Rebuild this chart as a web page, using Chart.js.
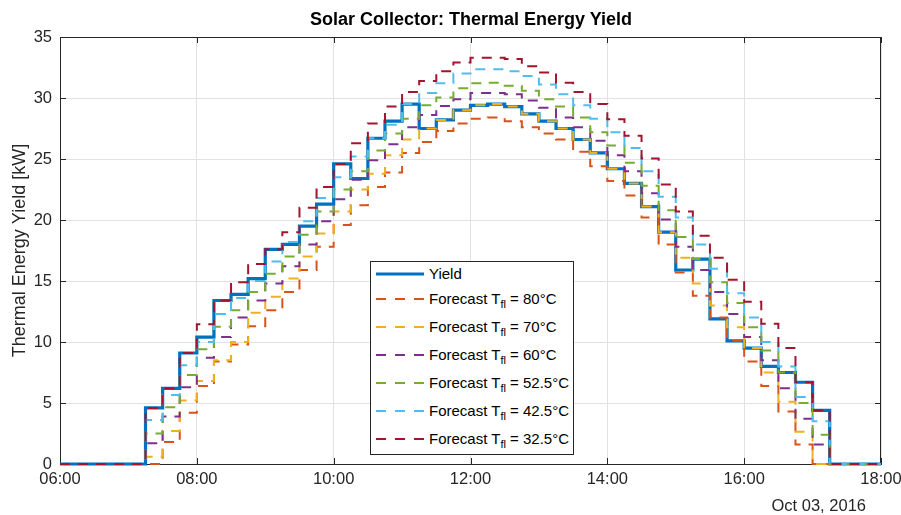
<!DOCTYPE html>
<html>
<head>
<meta charset="utf-8">
<script src="https://cdn.jsdelivr.net/npm/chart.js@4.4.1/dist/chart.umd.min.js"></script>
<style>
  body { margin: 0; background: #fff; }
  #wrap { position: relative; width: 901px; height: 515px; }
  #title {
    position: absolute; left: 271px; width: 400px; top: 8px; line-height: 22px; text-align: center;
    font-family: "Liberation Sans", Arial, Helvetica, sans-serif; font-size: 18px; font-weight: bold; color: #000;
  }
  #legend {
    position: absolute; left: 370px; top: 261px; width: 204px; height: 194px;
    box-sizing: border-box; border: 1px solid #262626; background: #fff;
    font-family: "Liberation Sans", Arial, Helvetica, sans-serif; font-size: 15px; color: #000;
  }
  #legend .row { position: absolute; left: 0; height: 20px; width: 200px; }
  #legend svg { position: absolute; left: 4px; top: 0; }
  #legend .txt { position: absolute; left: 58px; top: 0; line-height: 20px; white-space: nowrap; }
  #legend sub { font-size: 11px; vertical-align: -4px; line-height: 0; }
  #dateLabel {
    position: absolute; right: 35px; top: 495px; line-height: 20px;
    font-family: "Liberation Sans", Arial, Helvetica, sans-serif; font-size: 16.5px; color: #262626;
  }
</style>
</head>
<body>
<div id="wrap">
  <canvas id="chart" width="901" height="515"></canvas>
  <div id="title">Solar Collector: Thermal Energy Yield</div>
  <div id="legend"></div>
  <div id="dateLabel">Oct 03, 2016</div>
</div>
<script>
// 15-minute intervals, start hour of each step (07:15 ... 17:00)
const stepHours = [7.25, 7.5, 7.75, 8.0, 8.25, 8.5, 8.75, 9.0, 9.25, 9.5,
  9.75, 10.0, 10.25, 10.5, 10.75, 11.0, 11.25, 11.5, 11.75, 12.0,
  12.25, 12.5, 12.75, 13.0, 13.25, 13.5, 13.75, 14.0, 14.25, 14.5,
  14.75, 15.0, 15.25, 15.5, 15.75, 16.0, 16.25, 16.5, 16.75, 17.0];
const dayStart = 6, dayEnd = 18, lastStepEnd = 17.25;

const xTickHours = [6, 8, 10, 12, 14, 16, 18];
const xTickLabels = ['06:00', '08:00', '10:00', '12:00', '14:00', '16:00', '18:00'];

// kW per step
const yieldKW = [4.6, 6.2, 9.1, 10.4, 13.4, 13.9, 15.2, 17.6, 18.0, 19.5,
  21.3, 24.6, 23.4, 26.7, 28.1, 29.5, 27.5, 28.2, 29.0, 29.4,
  29.5, 29.3, 28.7, 28.1, 27.5, 26.6, 25.5, 24.2, 23.0, 21.1,
  19.0, 15.9, 16.8, 11.9, 10.1, 9.5, 8.0, 7.5, 6.7, 4.4];
const fc80 = [0, 1.8, 4.2, 6.4, 8.4, 9.8, 11.3, 12.6, 14.1, 15.9,
  17.8, 19.6, 21.2, 22.7, 23.9, 25.5, 26.4, 27.3, 27.9, 28.3,
  28.4, 28.1, 27.6, 27.1, 26.6, 25.6, 24.4, 23.2, 22.0, 20.2,
  18.0, 15.7, 13.8, 12.0, 10.1, 8.4, 6.4, 4.3, 1.6, 0];
const fc70 = [0.6, 2.7, 5.2, 6.8, 8.5, 10.0, 12.4, 13.7, 15.2, 17.0,
  18.9, 20.7, 22.5, 23.8, 25.3, 26.6, 27.5, 28.2, 29.0, 29.4,
  29.5, 29.3, 28.7, 28.1, 27.5, 26.6, 25.5, 24.2, 23.0, 21.1,
  19.0, 16.9, 14.8, 13.0, 11.2, 9.5, 7.5, 5.1, 2.65, 0];
const fc60 = [1.7, 3.9, 6.3, 8.7, 10.4, 12.0, 13.4, 14.8, 16.2, 18.0,
  19.9, 21.7, 23.3, 24.9, 26.2, 27.6, 28.6, 29.35, 29.9, 30.4,
  30.4, 30.3, 29.8, 29.2, 28.4, 27.6, 26.5, 25.3, 24.0, 22.2,
  20.05, 17.8, 15.9, 14.1, 12.3, 10.4, 8.5, 6.2, 3.7, 1.6];
const fc52 = [2.5, 4.65, 7.3, 9.4, 11.25, 12.6, 14.1, 15.6, 17.0, 18.8,
  20.7, 22.5, 24.0, 25.7, 27.1, 28.3, 29.4, 30.05, 30.8, 31.2,
  31.25, 31.0, 30.6, 29.9, 29.3, 28.4, 27.2, 26.1, 24.7, 22.8,
  20.8, 18.6, 16.8, 14.9, 13.2, 11.2, 9.3, 7.5, 5.0, 2.4];
const fc42 = [3.6, 5.65, 8.1, 10.0, 12.3, 13.6, 15.0, 16.6, 18.2, 19.9,
  21.8, 23.5, 25.2, 26.7, 27.8, 29.5, 30.4, 31.2, 32.0, 32.35,
  32.35, 32.2, 31.8, 31.1, 30.3, 29.4, 28.3, 27.2, 25.9, 24.0,
  21.9, 20.2, 18.0, 16.0, 14.0, 12.0, 10.0, 8.0, 5.5, 3.5];
const fc32 = [4.6, 6.2, 9.1, 11.45, 13.4, 14.9, 16.4, 17.6, 19.0, 21.0,
  22.7, 24.6, 26.3, 27.9, 29.3, 30.5, 31.4, 32.2, 32.9, 33.3,
  33.3, 33.2, 32.6, 32.1, 31.25, 30.5, 29.5, 28.25, 26.9, 25.05,
  22.9, 20.7, 18.7, 16.9, 15.1, 13.3, 11.5, 9.5, 6.7, 4.4];

const forecastTemps = ['80', '70', '60', '52.5', '42.5', '32.5'];
const forecastValues = [fc80, fc70, fc60, fc52, fc42, fc32];
const forecastColors = ['#D95319', '#EDB120', '#7E2F8E', '#77AC30', '#4DBEEE', '#A2142F'];
const yieldColor = '#0072BD';

const FONT = '"Liberation Sans", Arial, Helvetica, sans-serif';

function toSteps(vals) {
  const pts = [{ x: dayStart, y: 0 }];
  vals.forEach((v, i) => pts.push({ x: stepHours[i], y: v }));
  pts.push({ x: lastStepEnd, y: 0 });
  pts.push({ x: dayEnd, y: 0 });
  return pts;
}

const datasets = [{
  label: 'Yield',
  data: toSteps(yieldKW),
  borderColor: yieldColor,
  borderWidth: 3.2,
  stepped: true,
  pointRadius: 0,
  order: 7,
  clip: false
}];
forecastValues.forEach((vals, i) => {
  datasets.push({
    label: 'Forecast T_fl = ' + forecastTemps[i] + '°C',
    data: toSteps(vals),
    borderColor: forecastColors[i],
    borderWidth: 2,
    borderDash: [10, 8],
    stepped: true,
    pointRadius: 0,
    order: 6 - i,
    clip: false
  });
});

// axes box with inward ticks, matlab style
const boxPlugin = {
  id: 'box',
  beforeDatasetsDraw(chart) {
    const { ctx, chartArea: a, scales } = chart;
    ctx.save();
    ctx.strokeStyle = '#262626';
    ctx.lineWidth = 1;
    ctx.beginPath();
    ctx.moveTo(a.left, a.top + 0.5);
    ctx.lineTo(a.right, a.top + 0.5);
    ctx.moveTo(a.right - 0.5, a.top);
    ctx.lineTo(a.right - 0.5, a.bottom);
    scales.x.ticks.forEach(t => {
      const px = Math.round(scales.x.getPixelForValue(t.value)) + 0.5;
      ctx.moveTo(px, a.bottom); ctx.lineTo(px, a.bottom - 6);
      ctx.moveTo(px, a.top); ctx.lineTo(px, a.top + 6);
    });
    scales.y.ticks.forEach(t => {
      const py = Math.round(scales.y.getPixelForValue(t.value)) + 0.5;
      ctx.moveTo(a.left, py); ctx.lineTo(a.left + 6, py);
      ctx.moveTo(a.right, py); ctx.lineTo(a.right - 6, py);
    });
    ctx.stroke();
    ctx.restore();
  }
};

new Chart(document.getElementById('chart').getContext('2d'), {
  type: 'line',
  data: { datasets },
  options: {
    responsive: false,
    animation: false,
    devicePixelRatio: 1,
    layout: { padding: { left: 0, right: 20, top: 37, bottom: 0 } },
    plugins: {
      legend: { display: false },
      tooltip: { enabled: false },
      title: { display: false }
    },
    scales: {
      x: {
        type: 'linear',
        min: dayStart,
        max: dayEnd,
        afterBuildTicks(s) { s.ticks = xTickHours.map(v => ({ value: v })); },
        afterFit(s) { s.height = 51; s.paddingLeft = 0; s.paddingRight = 0; },
        ticks: {
          autoSkip: false, maxRotation: 0, padding: 6, color: '#262626',
          font: { family: FONT, size: 16.5 },
          callback: (v, i) => xTickLabels[i]
        },
        grid: { color: '#e2e2e2', drawTicks: false },
        border: { color: '#262626' }
      },
      y: {
        min: 0,
        max: 35,
        afterFit(s) { s.width = 60; s.paddingTop = 0; },
        ticks: { stepSize: 5, padding: 8, color: '#262626', font: { family: FONT, size: 16.5 } },
        grid: { color: '#e2e2e2', drawTicks: false },
        border: { color: '#262626' },
        title: {
          display: true,
          text: 'Thermal Energy Yield [kW]',
          color: '#262626',
          font: { family: FONT, size: 18 },
          padding: { top: 9, bottom: 0 }
        }
      }
    }
  },
  plugins: [boxPlugin]
});

// legend
const legendRowsY = [12, 37, 65, 93, 121, 149, 177];
let html = '<div class="row" style="top:' + (legendRowsY[0] - 10) + 'px">' +
  '<svg width="50" height="20"><line x1="1" y1="10" x2="49" y2="10" stroke="' + yieldColor + '" stroke-width="3.2"/></svg>' +
  '<div class="txt">Yield</div></div>';
forecastTemps.forEach((t, i) => {
  html += '<div class="row" style="top:' + (legendRowsY[i + 1] - 10) + 'px">' +
    '<svg width="50" height="20"><line x1="1" y1="10" x2="49" y2="10" stroke="' + forecastColors[i] +
    '" stroke-width="2" stroke-dasharray="10 9"/></svg>' +
    '<div class="txt">Forecast T<sub>fl</sub> = ' + t + '°C</div></div>';
});
document.getElementById('legend').innerHTML = html;
</script>
</body>
</html>
